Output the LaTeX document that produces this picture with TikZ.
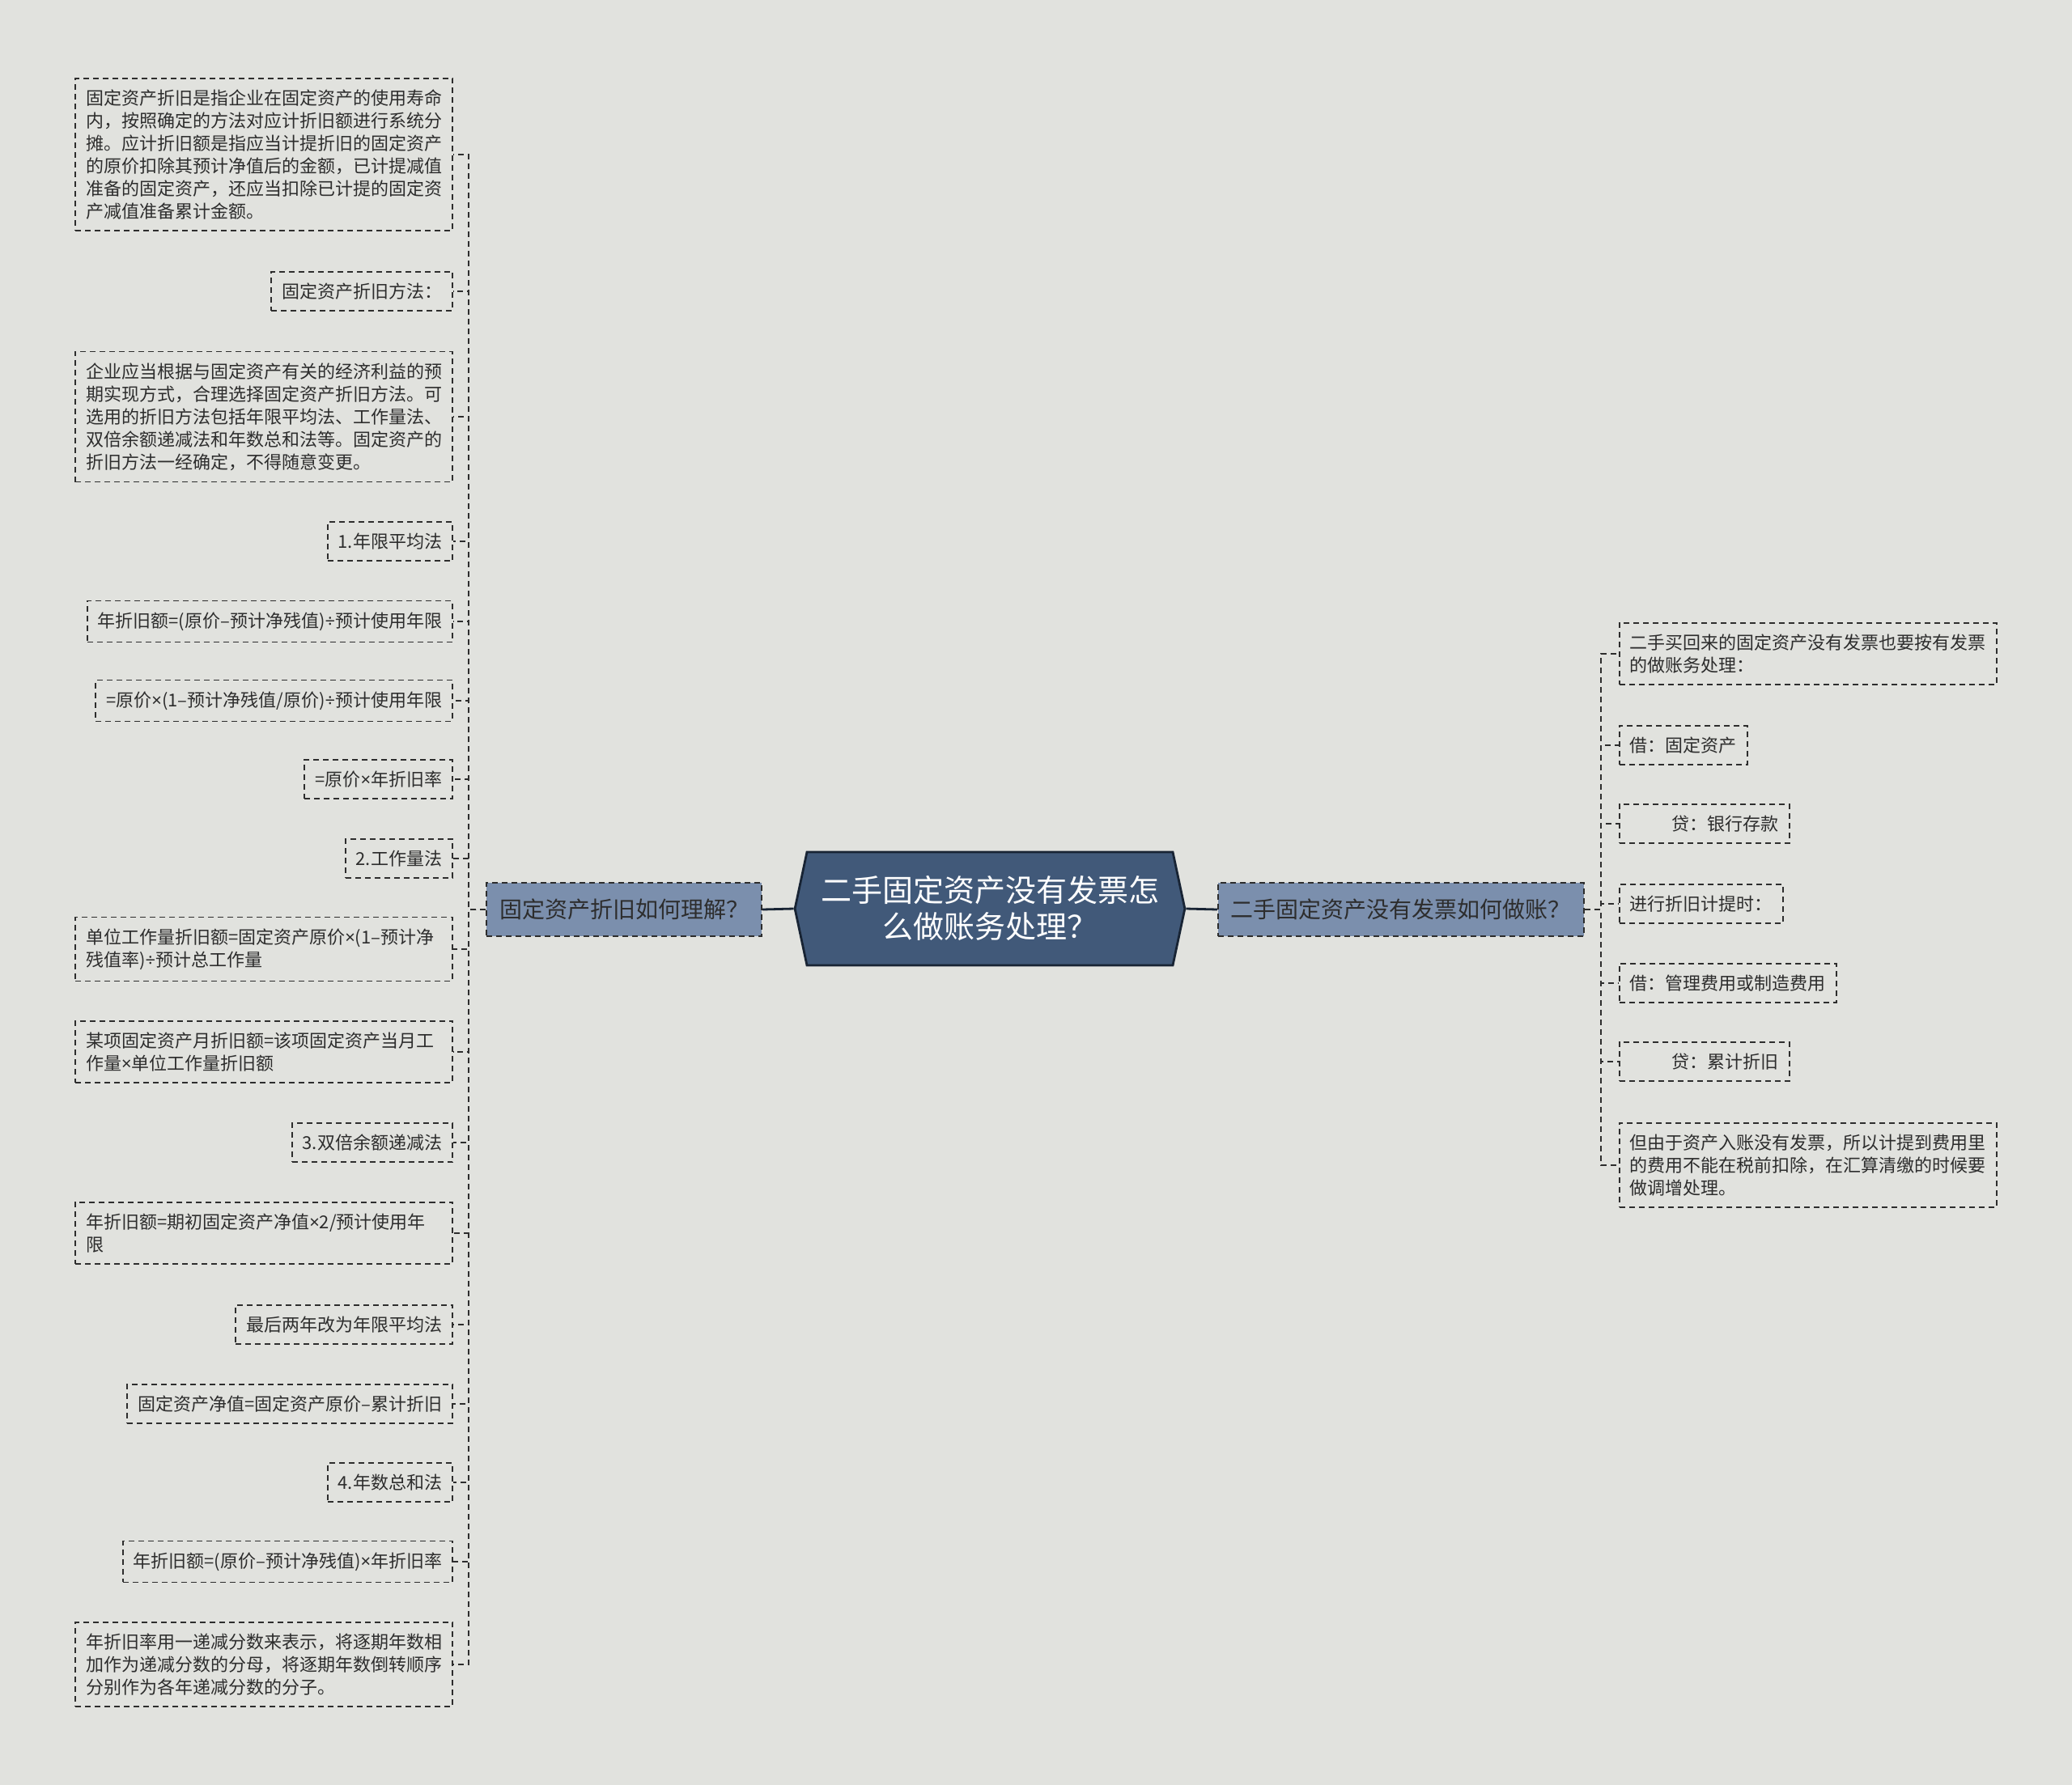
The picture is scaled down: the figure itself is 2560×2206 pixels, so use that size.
\documentclass[tikz,border=0pt]{standalone}
\usepackage{fontspec}
\newfontfamily\cjkfont{Noto Sans CJK SC}
\newfontfamily\symfont{Noto Sans}
\newcommand\tms{{\symfont ×}}
\newcommand\dvd{{\symfont ÷}}
\usetikzlibrary{shapes.symbols}

\definecolor{bgcol}{RGB}{225,226,222}
\definecolor{rootfill}{RGB}{65,89,121}
\definecolor{rootline}{RGB}{24,36,52}
\definecolor{branchfill}{RGB}{123,143,173}
\definecolor{inkcol}{RGB}{45,45,45}

\tikzset{every picture/.style={line width=0.9pt}}
\tikzset{
  leaf/.style={draw=inkcol, dash pattern=on 3.5pt off 2.5pt, text=inkcol,
    font=\cjkfont\fontsize{11}{14}\selectfont, align=left, inner xsep=6.5pt, inner ysep=7pt},
  wide/.style={text width=220pt},
  branch/.style={leaf, fill=branchfill, font=\cjkfont\fontsize{14}{17}\selectfont,
    inner xsep=8pt, minimum height=33pt},
  root/.style={signal, signal to=west and east, signal pointer angle=156, draw=rootline,
    line width=1.4pt, fill=rootfill, text=white, font=\cjkfont\fontsize{19}{22.5}\selectfont,
    align=center, text width=209pt, inner xsep=8.5pt, minimum height=70pt},
  link/.style={draw=inkcol, dash pattern=on 3.5pt off 2.5pt},
  spine/.style={draw=rootline, line width=1.4pt}
}

\begin{document}
\begin{tikzpicture}[x=0.5pt,y=0.5pt,yscale=-1]
\path[use as bounding box, fill=bgcol] (0,0) rectangle (2560,2206);

% Root
\node [root] (root) at (1223,1123) {二手固定资产没有发票怎\\么做账务处理？};

% Branches
\node [branch, anchor=east] (lb) at (942,1124) {固定资产折旧如何理解？};
\node [branch, anchor=west] (rb) at (1504,1124) {二手固定资产没有发票如何做账？};

% Text Node -- left side
\node [leaf, wide, anchor=east] (l1) at (560,191) {固定资产折旧是指企业在固定资产的使用寿命\\内，按照确定的方法对应计折旧额进行系统分\\摊。应计折旧额是指应当计提折旧的固定资产\\的原价扣除其预计净值后的金额，已计提减值\\准备的固定资产，还应当扣除已计提的固定资\\产减值准备累计金额。};
\node [leaf, anchor=east] (l2) at (560,360) {固定资产折旧方法：};
\node [leaf, wide, anchor=east] (l3) at (560,515) {企业应当根据与固定资产有关的经济利益的预\\期实现方式，合理选择固定资产折旧方法。可\\选用的折旧方法包括年限平均法、工作量法、\\双倍余额递减法和年数总和法等。固定资产的\\折旧方法一经确定，不得随意变更。};
\node [leaf, anchor=east] (l4) at (560,669) {1.年限平均法};
\node [leaf, anchor=east] (l5) at (560,768) {年折旧额=(原价–预计净残值)\dvd 预计使用年限};
\node [leaf, anchor=east] (l6) at (560,866) {=原价\tms(1–预计净残值/原价)\dvd 预计使用年限};
\node [leaf, anchor=east] (l7) at (560,963) {=原价\tms 年折旧率};
\node [leaf, anchor=east] (l8) at (560,1061) {2.工作量法};
\node [leaf, wide, anchor=east] (l9) at (560,1173) {单位工作量折旧额=固定资产原价\tms(1–预计净\\残值率)\dvd 预计总工作量};
\node [leaf, wide, anchor=east] (l10) at (560,1300) {某项固定资产月折旧额=该项固定资产当月工\\作量\tms 单位工作量折旧额};
\node [leaf, anchor=east] (l11) at (560,1412) {3.双倍余额递减法};
\node [leaf, wide, anchor=east] (l12) at (560,1524) {年折旧额=期初固定资产净值\tms 2/预计使用年\\限};
\node [leaf, anchor=east] (l13) at (560,1637) {最后两年改为年限平均法};
\node [leaf, anchor=east] (l14) at (560,1735) {固定资产净值=固定资产原价–累计折旧};
\node [leaf, anchor=east] (l15) at (560,1832) {4.年数总和法};
\node [leaf, anchor=east] (l16) at (560,1930) {年折旧额=(原价–预计净残值)\tms 年折旧率};
\node [leaf, wide, anchor=east] (l17) at (560,2057) {年折旧率用一递减分数来表示，将逐期年数相\\加作为递减分数的分母，将逐期年数倒转顺序\\分别作为各年递减分数的分子。};

% Text Node -- right side
\node [leaf, wide, anchor=west] (r1) at (2000,808) {二手买回来的固定资产没有发票也要按有发票\\的做账务处理：};
\node [leaf, anchor=west] (r2) at (2000,921) {借：固定资产};
\node [leaf, anchor=west] (r3) at (2000,1018) {\hspace*{26pt}贷：银行存款};
\node [leaf, anchor=west] (r4) at (2000,1117) {进行折旧计提时：};
\node [leaf, anchor=west] (r5) at (2000,1215) {借：管理费用或制造费用};
\node [leaf, anchor=west] (r6) at (2000,1312) {\hspace*{26pt}贷：累计折旧};
\node [leaf, wide, anchor=west] (r7) at (2000,1440) {但由于资产入账没有发票，所以计提到费用里\\的费用不能在税前扣除，在汇算清缴的时候要\\做调增处理。};

%Straight Lines
\draw [spine] (root.west) -- (lb.east);
\draw [spine] (root.east) -- (rb.west);

% elbows
\foreach \n in {l1,l2,l3,l4,l5,l6,l7,l8,l9,l10,l11,l12,l13,l14,l15,l16,l17}
  \draw [link] (lb.west) -- ++(-21,0) |- (\n.east);
\foreach \n in {r1,r2,r3,r4,r5,r6,r7}
  \draw [link] (rb.east) -- ++(20,0) |- (\n.west);

\end{tikzpicture}
\end{document}
